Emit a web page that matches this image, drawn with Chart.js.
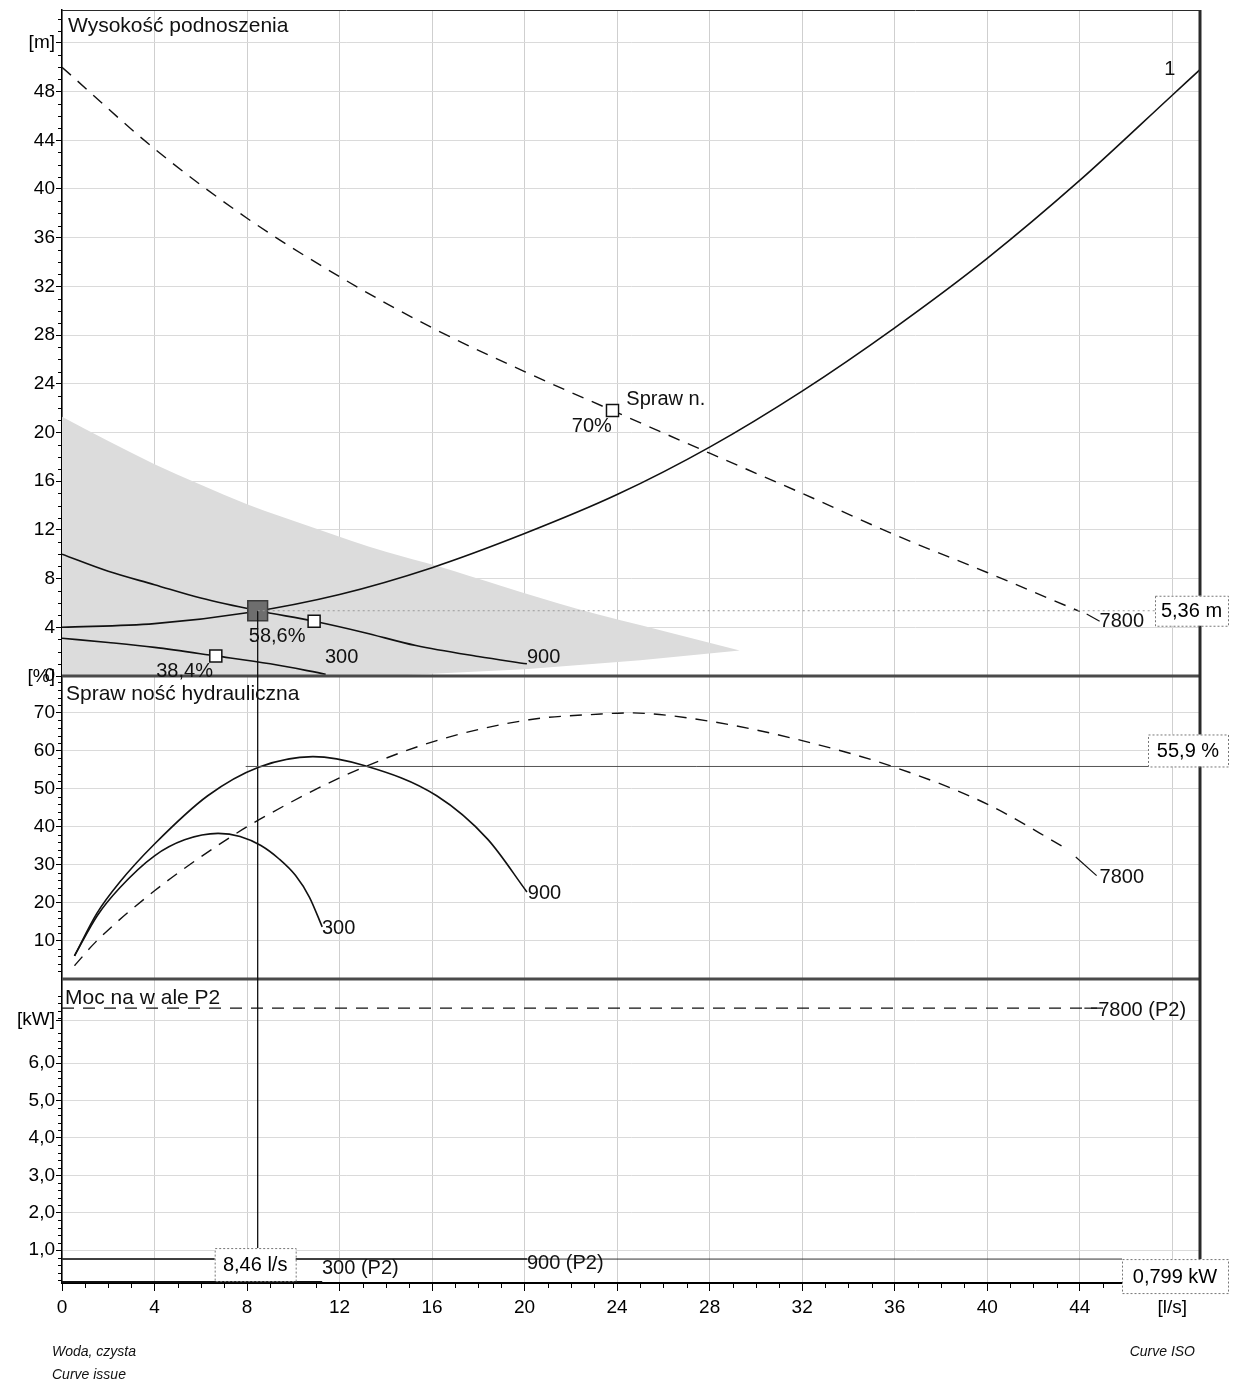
<!DOCTYPE html>
<html>
<head>
<meta charset="utf-8">
<title>Krzywa pompy</title>
<script src="https://cdn.jsdelivr.net/npm/chart.js"></script>
<style>
  html, body { margin: 0; padding: 0; background: #fff; }
  #wrap { position: relative; width: 1233px; height: 1384px; }
</style>
</head>
<body>
<div id="wrap"><canvas id="pump_chart" width="1233" height="1384"></canvas></div>
<script>
// axis ticks
const flowTicks = [0, 4, 8, 12, 16, 20, 24, 28, 32, 36, 40, 44, 48];
const headTicks = [0, 4, 8, 12, 16, 20, 24, 28, 32, 36, 40, 44, 48, 52];
const effTicks = [10, 20, 30, 40, 50, 60, 70, 79.5];
const powerTicks = [1, 2, 3, 4, 5, 6, 7.15];

// head [m]
const q7800H = [0, 4, 8, 12, 16, 20, 23.8, 28, 32, 36, 40, 44];
const h7800 = [50.0, 43.3, 37.6, 32.8, 28.6, 25.0, 21.8, 18.3, 15.0, 11.6, 8.5, 5.3];
const qSys = [0, 4, 8, 12, 16, 20, 24, 28, 32, 36, 40, 44, 48, 49.2];
const hSys = [4.0, 4.3, 5.2, 6.7, 8.9, 11.7, 14.9, 18.8, 23.4, 28.6, 34.3, 40.7, 47.7, 49.8];
const q900H = [0, 2, 4, 6, 8.46, 10.9, 13, 15.3, 18, 20.1];
const h900 = [10.0, 8.6, 7.5, 6.4, 5.36, 4.5, 3.6, 2.5, 1.6, 1.0];
const q300H = [0, 2, 4, 6.65, 9, 11.4];
const h300 = [3.1, 2.75, 2.35, 1.65, 1.0, 0.15];

// operating range (grey area)
const qRangeTop = [0, 2, 4, 6, 8, 11, 14, 16.3, 19, 22.3, 26, 29.3];
const hRangeTop = [21.3, 19.3, 17.4, 15.7, 14.1, 12.1, 10.2, 9.0, 7.4, 5.5, 3.7, 2.1];
const qRangeBottom = [0, 14, 20, 25, 29.3];
const hRangeBottom = [0, 0, 0.55, 1.3, 2.1];

// hydraulic efficiency [%]
const q7800E = [0.54, 1.45, 4, 6.9, 8.58, 12.4, 16.2, 20.2, 23.3, 24.5, 28, 32, 36, 40, 43.4];
const e7800 = [3.5, 9.7, 23.2, 35.8, 42.1, 54, 62.7, 68.2, 69.7, 70.0, 67.8, 62.7, 55.7, 46, 34.4];
const q900E = [0.54, 1.5, 2.5, 4, 6.3, 8.5, 10.85, 13.1, 16.2, 18.4, 20.1];
const e900 = [6.1, 17.2, 25.5, 35.5, 48.2, 55.7, 58.5, 56.1, 48.2, 36.8, 22.9];
const q300E = [0.54, 1.53, 2.5, 4, 5.3, 6.75, 7.7, 8.6, 9.4, 10.1, 10.7, 11.25];
const e300 = [6.1, 16.7, 24, 32.4, 36.6, 38.3, 37.5, 35.1, 31.5, 27.2, 21.5, 13.7];

// shaft power P2 [kW]
const q7800P = [0, 45.4];
const p7800 = [7.47, 7.47];
const q900P = [0, 20.1];
const p900 = [0.76, 0.76];
const q300P = [0, 11.25];
const p300 = [0.15, 0.15];

// duty point and best efficiency points
const dutyQ = 8.46, dutyH = 5.36, dutyEff = 55.9, dutyP = 0.799, dutyPLine = 0.76;
const bepQ = [23.8, 10.9, 6.65];
const bepH = [21.8, 4.5, 1.64];

const FONT = '"Liberation Sans", Arial, sans-serif';
Chart.defaults.font.family = FONT;
Chart.defaults.color = '#000';

const pts = (xs, ys) => xs.map((x, i) => ({ x, y: ys[i] }));
const comma = (v, d) => v.toFixed(d).replace('.', ',');

const curve = (data, yAxisID, dashed) => ({
  data, yAxisID,
  borderColor: '#111', borderWidth: dashed ? 1.4 : 1.6,
  borderDash: dashed ? [12, 9] : [],
  pointRadius: 0, fill: false,
  tension: 0.4, cubicInterpolationMode: 'monotone',
  order: 1
});

const curveLabels = [
  { text: '1', axis: 'yH', x: 47.9, y: 49.8, align: 'center' },
  { text: 'Spraw n.', axis: 'yH', x: 24.4, y: 22.7, align: 'left' },
  { text: '70%', axis: 'yH', x: 23.77, y: 20.5, align: 'right' },
  { text: '58,6%', axis: 'yH', x: 9.3, y: 3.28, align: 'center' },
  { text: '38,4%', axis: 'yH', x: 5.3, y: 0.33, align: 'center' },
  { text: '300', axis: 'yH', x: 11.37, y: 1.48, align: 'left' },
  { text: '900', axis: 'yH', x: 20.1, y: 1.48, align: 'left' },
  { text: '7800', axis: 'yH', x: 44.86, y: 4.5, align: 'left' },
  { text: '300', axis: 'yE', x: 11.24, y: 13.2, align: 'left' },
  { text: '900', axis: 'yE', x: 20.14, y: 22.4, align: 'left' },
  { text: '7800', axis: 'yE', x: 44.86, y: 26.8, align: 'left' },
  { text: '7800 (P2)', axis: 'yP', x: 44.8, y: 7.42, align: 'left' },
  { text: '300 (P2)', axis: 'yP', x: 11.24, y: 0.52, align: 'left' },
  { text: '900 (P2)', axis: 'yP', x: 20.1, y: 0.65, align: 'left' }
];
const leaders = [
  { axis: 'yH', x1: 44.3, y1: 5.1, x2: 44.86, y2: 4.5 },
  { axis: 'yE', x1: 43.83, y1: 32.1, x2: 44.73, y2: 27.2 },
  { axis: 'yP', x1: 44.2, y1: 7.47, x2: 44.75, y2: 7.47 }
];

const decor = {
  id: 'decor',
  afterDatasetsDraw(chart) {
    const { ctx, chartArea: a, scales } = chart;
    const { x, yH, yE, yP } = scales;
    const px = v => x.getPixelForValue(v);
    ctx.save();

    // minor ticks
    ctx.strokeStyle = '#000';
    ctx.lineWidth = 1;
    const minorY = (s, step, major, to) => {
      for (let i = 1; i * step <= to; i++) {
        const v = i * step;
        if (Math.abs(v / major - Math.round(v / major)) < 1e-6) continue;
        const p = Math.round(s.getPixelForValue(v)) + 0.5;
        if (p < s.top || p > s.bottom) continue;
        ctx.beginPath(); ctx.moveTo(a.left - 4, p); ctx.lineTo(a.left, p); ctx.stroke();
      }
    };
    minorY(yH, 1, 4, 54);
    minorY(yE, 2, 10, 79);
    minorY(yP, 0.2, 1, 8.2);
    for (let v = 1; v < 49; v++) {
      if (v % 4 === 0) continue;
      const p = Math.round(px(v)) + 0.5;
      ctx.beginPath(); ctx.moveTo(p, a.bottom); ctx.lineTo(p, a.bottom + 5); ctx.stroke();
    }

    // panel separators and frame
    ctx.strokeStyle = '#4a4a4a';
    ctx.lineWidth = 3;
    [yH.bottom, yE.bottom].forEach(y => {
      ctx.beginPath(); ctx.moveTo(a.left, y); ctx.lineTo(a.right, y); ctx.stroke();
    });
    ctx.strokeStyle = '#2a2a2a';
    ctx.beginPath(); ctx.moveTo(a.right, a.top); ctx.lineTo(a.right, a.bottom); ctx.stroke();
    ctx.lineWidth = 1;
    ctx.beginPath(); ctx.moveTo(a.left, a.top + 0.5); ctx.lineTo(a.right, a.top + 0.5); ctx.stroke();

    // duty point reference lines
    const dx = px(dutyQ);
    const yDutyH = yH.getPixelForValue(dutyH);
    const yDutyE = yE.getPixelForValue(dutyEff);
    const yDutyP = yP.getPixelForValue(dutyPLine);
    const qBoxTop = yDutyP - 11;
    ctx.strokeStyle = '#111';
    ctx.lineWidth = 1.3;
    ctx.beginPath(); ctx.moveTo(dx, yDutyH); ctx.lineTo(dx, qBoxTop); ctx.stroke();
    ctx.lineWidth = 1;
    ctx.strokeStyle = '#555';
    ctx.beginPath(); ctx.moveTo(dx - 12, yDutyE); ctx.lineTo(a.right - 52, yDutyE); ctx.stroke();
    ctx.strokeStyle = '#333';
    ctx.beginPath(); ctx.moveTo(a.left, yDutyP); ctx.lineTo(a.right - 78, yDutyP); ctx.stroke();
    ctx.strokeStyle = '#999';
    ctx.setLineDash([2, 3]);
    ctx.beginPath(); ctx.moveTo(dx, yDutyH); ctx.lineTo(a.right - 45, yDutyH); ctx.stroke();
    ctx.setLineDash([]);

    // value boxes
    const box = (text, l, t, r, b) => {
      ctx.fillStyle = '#fff';
      ctx.fillRect(l, t, r - l, b - t);
      ctx.strokeStyle = '#777';
      ctx.lineWidth = 1;
      ctx.setLineDash([2, 2]);
      ctx.strokeRect(l + 0.5, t + 0.5, r - l, b - t);
      ctx.setLineDash([]);
      ctx.fillStyle = '#000';
      ctx.font = `20px ${FONT}`;
      ctx.textAlign = 'center';
      ctx.textBaseline = 'middle';
      ctx.fillText(text, (l + r) / 2, (t + b) / 2 + 1);
    };
    box(comma(dutyH, 2) + ' m', a.right - 45, yDutyH - 15, a.right + 28, yDutyH + 15);
    box(comma(dutyEff, 1) + ' %', a.right - 52, yDutyE - 32, a.right + 28, yDutyE);
    box(comma(dutyP, 3) + ' kW', a.right - 78, yDutyP, a.right + 28, yDutyP + 34);
    box(comma(dutyQ, 2) + ' l/s', dx - 43, qBoxTop, dx + 38, qBoxTop + 33);

    // leaders to curve labels
    ctx.strokeStyle = '#111';
    ctx.lineWidth = 1.2;
    leaders.forEach(l => {
      const s = scales[l.axis];
      ctx.beginPath();
      ctx.moveTo(px(l.x1), s.getPixelForValue(l.y1));
      ctx.lineTo(px(l.x2), s.getPixelForValue(l.y2));
      ctx.stroke();
    });

    // curve labels
    ctx.fillStyle = '#111';
    ctx.font = `20px ${FONT}`;
    ctx.textBaseline = 'middle';
    curveLabels.forEach(l => {
      ctx.textAlign = l.align;
      ctx.fillText(l.text, px(l.x), scales[l.axis].getPixelForValue(l.y));
    });

    // panel titles
    ctx.textAlign = 'left';
    ctx.font = `21px ${FONT}`;
    ctx.fillText('Wysokość podnoszenia', a.left + 6, yH.top + 16);
    ctx.fillText('Spraw ność hydrauliczna', a.left + 4, yE.top + 18);
    ctx.fillText('Moc na w ale P2', a.left + 3, yP.top + 19);

    // footer
    ctx.font = `italic 14px ${FONT}`;
    ctx.fillText('Woda, czysta', 52, 1352);
    ctx.fillText('Curve issue', 52, 1375);
    ctx.textAlign = 'right';
    ctx.fillText('Curve ISO', 1195, 1352);

    ctx.restore();
  }
};

const yAxis = (min, max, ticks, weight, stackWeight, fmt) => ({
  type: 'linear', position: 'left', stack: 'panels', stackWeight, weight, min, max,
  afterBuildTicks: s => { s.ticks = ticks.map(v => ({ value: v })); },
  afterFit: s => { s.width = 62; s.paddingTop = 0; s.paddingBottom = 0; },
  ticks: { callback: fmt, autoSkip: false, padding: 1, font: { size: 19 }, color: '#000' },
  grid: {
    color: c => (c.tick && (c.tick.value === 0 || c.tick.value === 79.5)) ? 'rgba(0,0,0,0)' : '#dadada',
    tickColor: '#000', tickLength: 6, lineWidth: 1
  },
  border: { color: '#000', width: 1.5 }
});

new Chart(document.getElementById('pump_chart'), {
  type: 'line',
  data: {
    datasets: [
      {
        data: pts([dutyQ], [dutyH]), yAxisID: 'yH', showLine: false,
        pointStyle: 'rect', pointRadius: 14, pointBackgroundColor: '#6e6e6e',
        pointBorderColor: '#3a3a3a', pointBorderWidth: 1.5, order: 0
      },
      {
        data: pts(bepQ, bepH), yAxisID: 'yH', showLine: false,
        pointStyle: 'rect', pointRadius: 8.5, pointBackgroundColor: '#fff',
        pointBorderColor: '#111', pointBorderWidth: 1.5, order: 0
      },
      curve(pts(q7800H, h7800), 'yH', true),
      curve(pts(qSys, hSys), 'yH', false),
      curve(pts(q900H, h900), 'yH', false),
      curve(pts(q300H, h300), 'yH', false),
      curve(pts(q7800E, e7800), 'yE', true),
      curve(pts(q900E, e900), 'yE', false),
      curve(pts(q300E, e300), 'yE', false),
      curve(pts(q7800P, p7800), 'yP', true),
      curve(pts(q900P, p900), 'yP', false),
      curve(pts(q300P, p300), 'yP', false),
      {
        data: pts(qRangeTop, hRangeTop), yAxisID: 'yH',
        borderColor: 'rgba(0,0,0,0)', backgroundColor: '#dcdcdc',
        pointRadius: 0, fill: '+1', tension: 0.3, cubicInterpolationMode: 'monotone', order: 2
      },
      {
        data: pts(qRangeBottom, hRangeBottom), yAxisID: 'yH',
        borderColor: 'rgba(0,0,0,0)', pointRadius: 0, fill: false, tension: 0, order: 2
      }
    ]
  },
  options: {
    responsive: false,
    animation: false,
    devicePixelRatio: 1,
    layout: { autoPadding: false, padding: { top: 10, right: 33, left: 0, bottom: 0 } },
    plugins: { legend: { display: false }, tooltip: { enabled: false } },
    scales: {
      x: {
        type: 'linear', min: 0, max: 49.2,
        afterBuildTicks: s => { s.ticks = flowTicks.map(v => ({ value: v })); },
        afterFit: s => { s.height = 101; s.paddingLeft = 0; s.paddingRight = 0; },
        ticks: {
          callback: v => v === 48 ? '[l/s]' : String(v),
          autoSkip: false, maxRotation: 0, padding: 5, font: { size: 19 }, color: '#000'
        },
        grid: { color: '#cfcfcf', tickColor: '#000', tickLength: 8, lineWidth: 1 },
        border: { color: '#000', width: 2 }
      },
      yP: yAxis(0.12, 8.25, powerTicks, 1, 304, v => v === 7.15 ? '[kW]' : comma(v, 1)),
      yE: yAxis(0, 79.7, effTicks, 2, 303, v => v === 79.5 ? '[%]' : String(v)),
      yH: yAxis(0, 54.7, headTicks, 3, 666, v => v === 52 ? '[m]' : String(v))
    }
  },
  plugins: [decor]
});
</script>
</body>
</html>
